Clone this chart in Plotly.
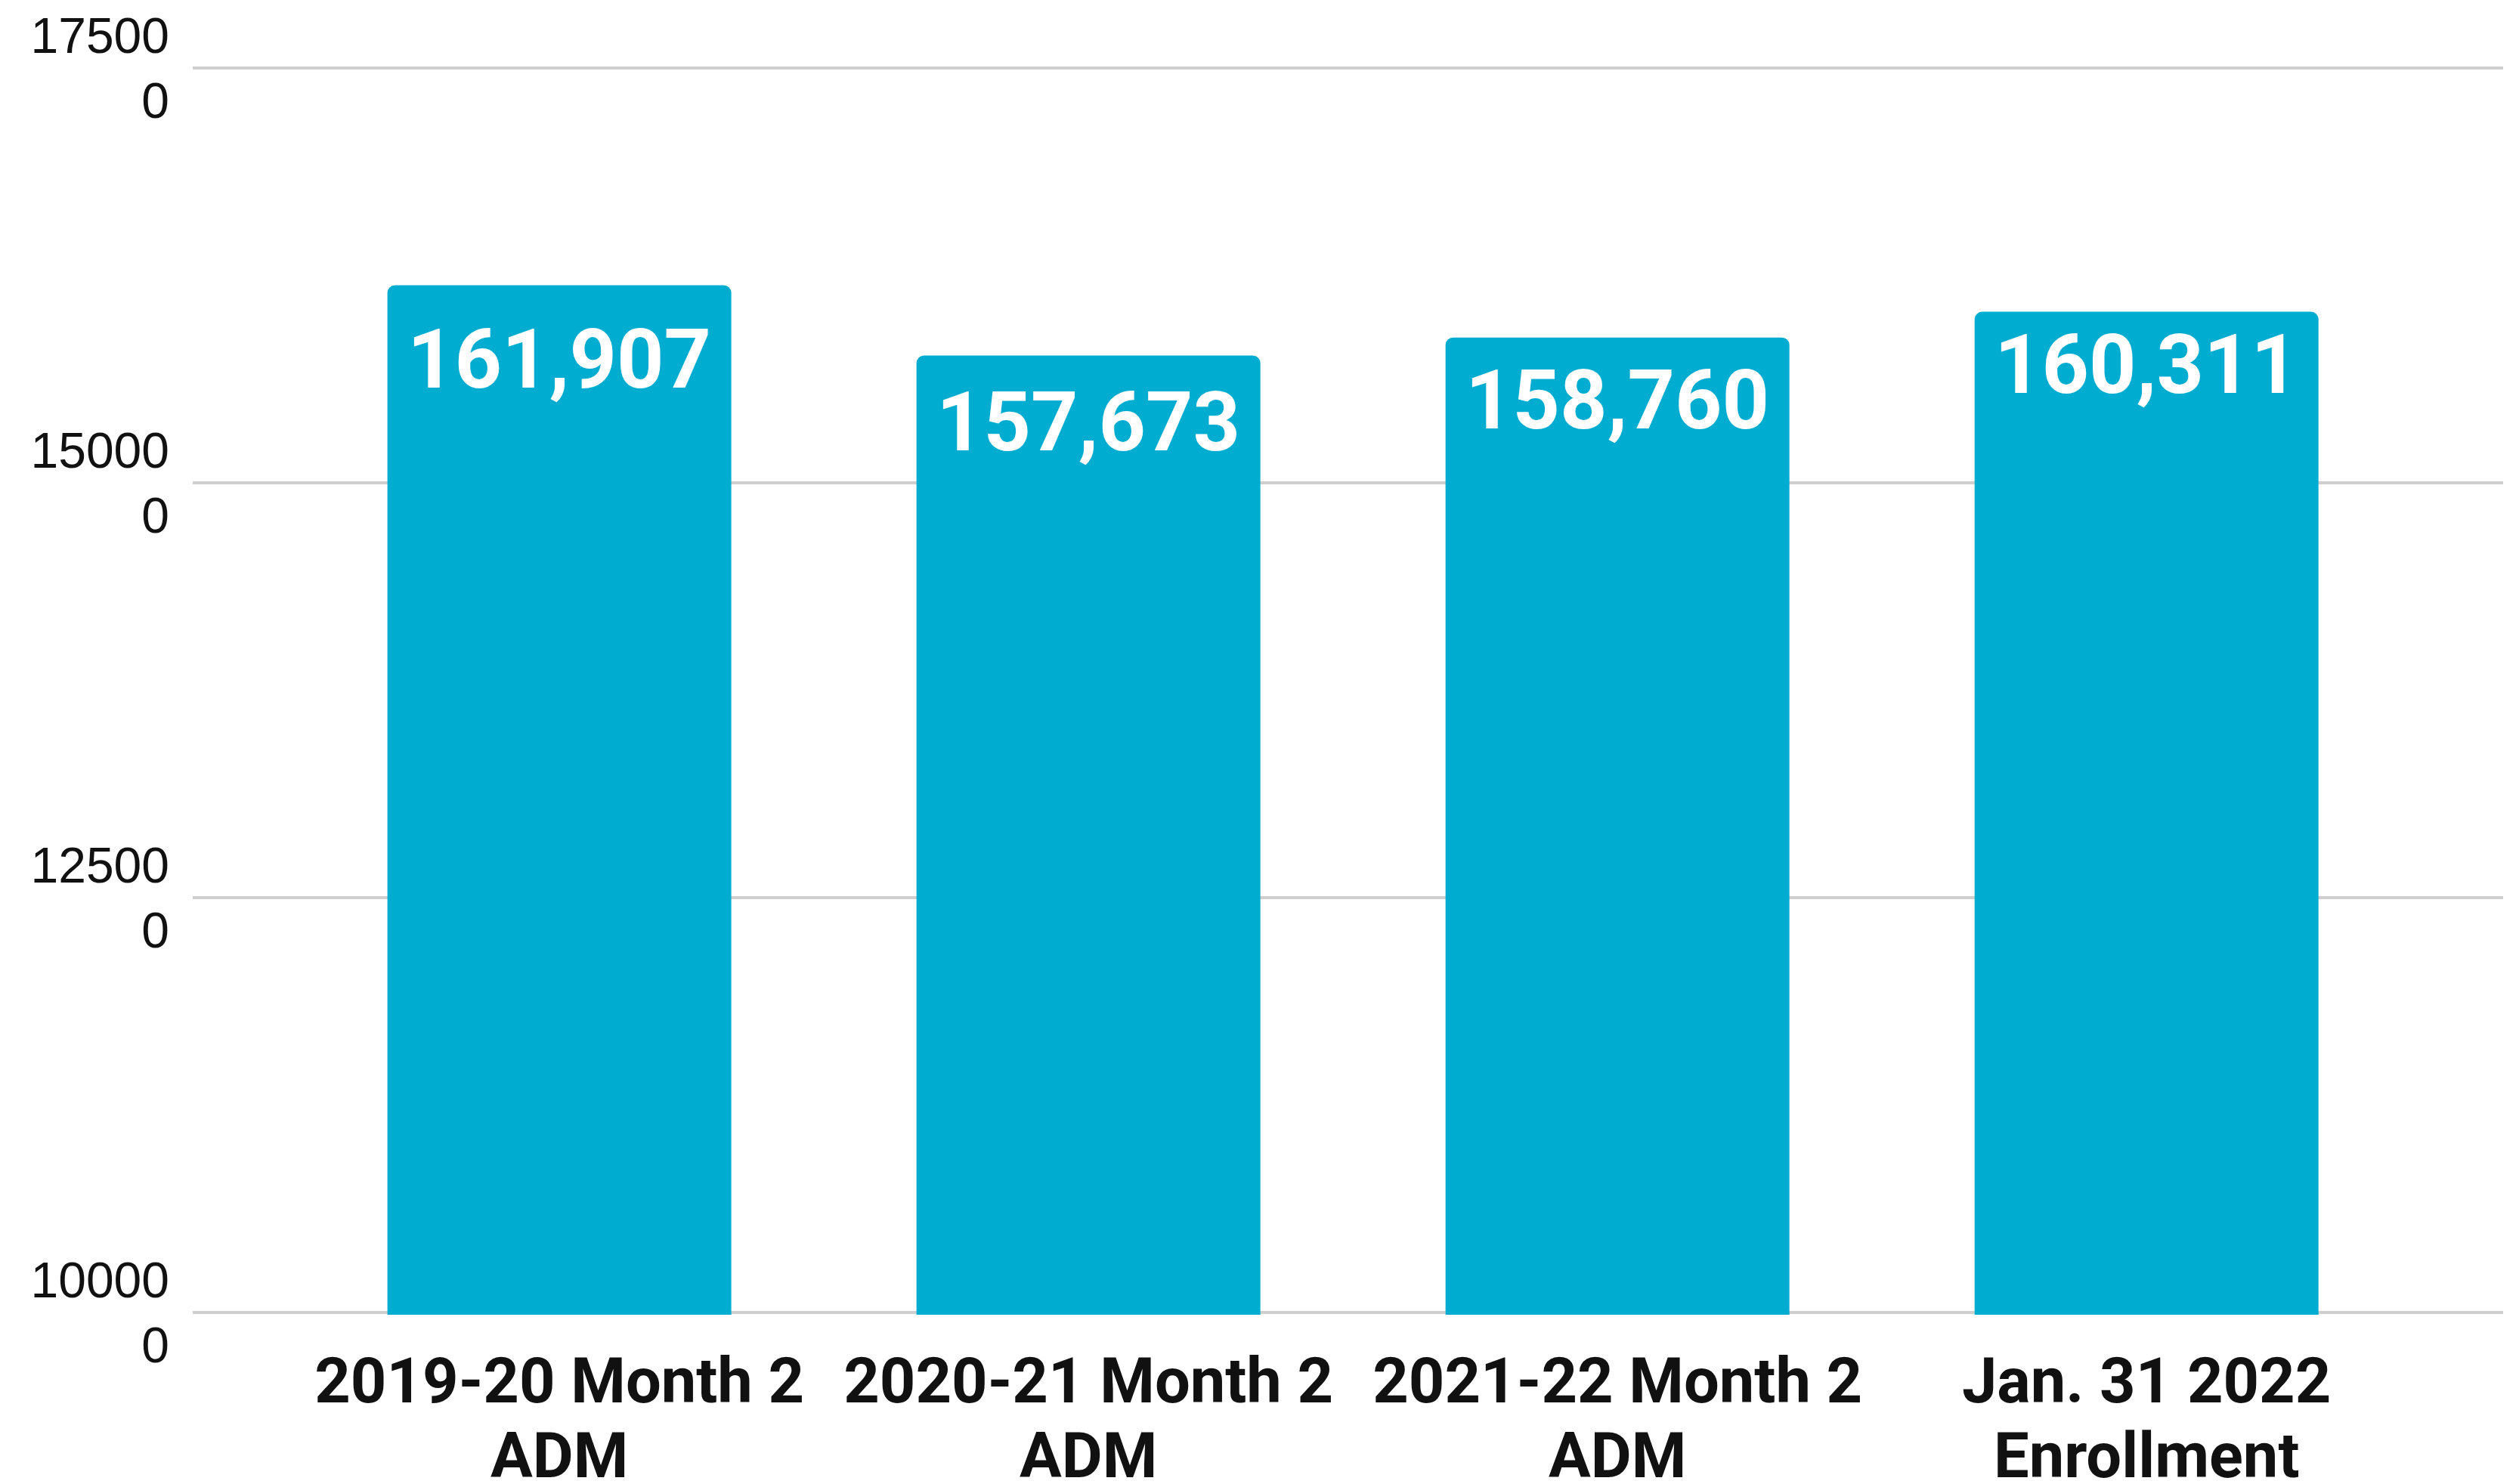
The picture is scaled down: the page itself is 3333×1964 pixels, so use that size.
import plotly.graph_objects as go

categories = ["2019-20 Month 2<br>ADM", "2020-21 Month 2<br>ADM",
              "2021-22 Month 2<br>ADM", "Jan. 31 2022<br>Enrollment"]
enrollment = [161907, 157673, 158760, 160311]
y_tick_vals = [100000, 125000, 150000, 175000]
y_tick_text = ["10000<br>0", "12500<br>0", "15000<br>0", "17500<br>0"]

BAR_COLOR = "#00ACCF"
GRID = "#CFCFCF"
# how far below the bar top each value label sits (px)
LABEL_SHIFT = [-98, -88, -83, -70]

# category labels: first line on the axis, second line as an annotation
# (lets the two lines sit a bit tighter than plotly's default line height)
line1 = [c.split("<br>")[0] for c in categories]
line2 = [c.split("<br>")[1] for c in categories]
xs = list(range(len(categories)))

fig = go.Figure()
fig.add_trace(go.Bar(
    x=xs,
    y=enrollment,
    width=0.65,
    marker_color=BAR_COLOR,
    marker_line_width=0,
    hoverinfo="skip",
))

# value labels inside the top of each bar
for i, v in enumerate(enrollment):
    fig.add_annotation(
        x=i, y=v, text=f"<b>{v:,}</b>",
        showarrow=False, yanchor="middle", yshift=LABEL_SHIFT[i],
        font=dict(family="Roboto", size=109, color="white"),
    )

for i, t in enumerate(line2):
    fig.add_annotation(
        x=i, xref="x", y=0, yref="paper", text=f"<b>{t}</b>",
        showarrow=False, yanchor="middle", yshift=-186,
        font=dict(family="Roboto", size=83, color="#111111"),
    )

# page body has an 8px margin, so the figure is sized/offset for it
fig.update_layout(
    width=3317, height=1948,
    margin=dict(l=247, r=13, t=79, b=216),
    plot_bgcolor="white", paper_bgcolor="white",
    showlegend=False,
    barcornerradius=10,
    xaxis=dict(
        range=[-0.693, 3.674],
        tickvals=xs,
        ticktext=[f"<b>{t}</b>" for t in line1],
        tickfont=dict(family="Roboto", size=83, color="#111111"),
        showgrid=False, zeroline=False, showline=False,
        ticks="", ticklabelstandoff=32, automargin=False,
    ),
    yaxis=dict(
        range=[99860, 175140],
        tickvals=y_tick_vals,
        ticktext=y_tick_text,
        tickfont=dict(family="Liberation Sans, Arial", size=66, color="#111111"),
        showgrid=True, gridcolor=GRID, gridwidth=4,
        zeroline=False, showline=False,
        ticks="", ticklabelstandoff=30, automargin=False,
    ),
)

fig.write_html("out.html")
